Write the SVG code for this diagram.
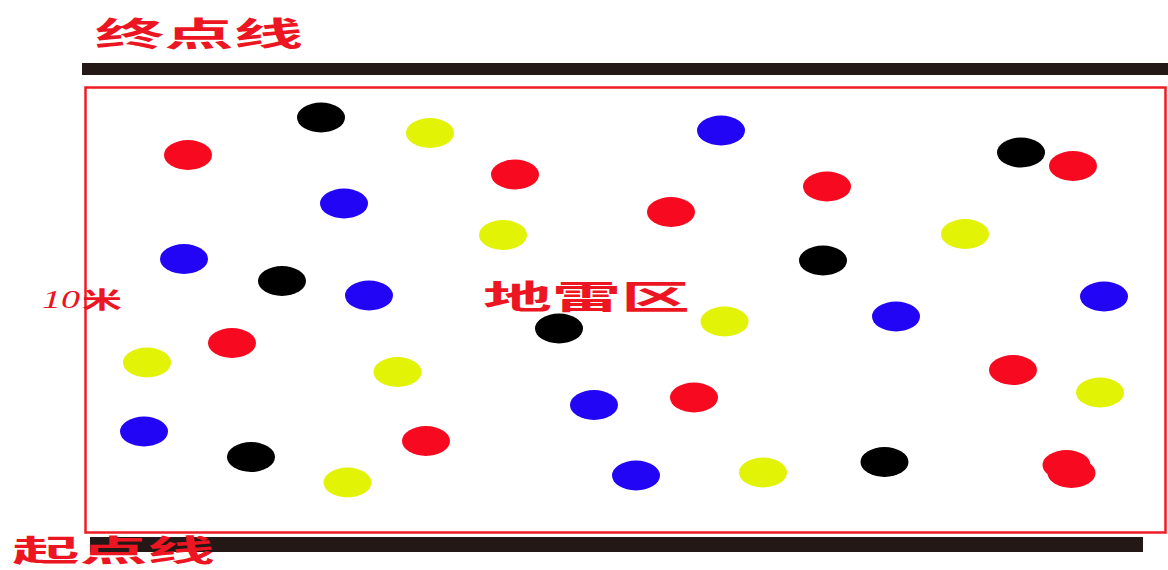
<svg xmlns="http://www.w3.org/2000/svg" width="1168" height="570" viewBox="0 0 1168 570">
<style>
.t{font-family:"Noto Sans CJK SC","Noto Sans CJK JP",sans-serif;font-weight:700;fill:#ec1522}
.r{fill:#f7091f}.y{fill:#e2f305}.b{fill:#2305f5}.k{fill:#000}
</style>
<rect width="1168" height="570" fill="#fff"/>
<g id="finish-line">
<rect x="82" y="63" width="1086" height="12" fill="#231815"/>
<text class="t" x="95" y="46" font-size="33" textLength="208" lengthAdjust="spacingAndGlyphs">终点线</text>
</g>
<g id="start-line">
<rect x="90" y="537" width="1053" height="15" fill="#231815"/>
<text class="t" x="12" y="561" font-size="30" textLength="203" lengthAdjust="spacingAndGlyphs">起点线</text>
</g>
<g id="minefield">
<rect x="85.5" y="87.5" width="1080" height="445" fill="none" stroke="#ee1c25" stroke-width="2.5"/>
<text class="t" x="483" y="309" font-size="33" textLength="207" lengthAdjust="spacingAndGlyphs">地雷区</text>
</g>
<g id="width-label">
<text x="42" y="308" font-family="Liberation Serif, serif" font-style="italic" font-size="26" fill="#e8141f" textLength="38" lengthAdjust="spacingAndGlyphs">10</text>
<text class="t" x="82" y="308" font-size="23" textLength="40" lengthAdjust="spacingAndGlyphs">米</text>
</g>
<g id="mines">
<ellipse class="k" cx="321" cy="117.5" rx="24" ry="15"/>
<ellipse class="y" cx="430" cy="133" rx="24" ry="15"/>
<ellipse class="b" cx="721" cy="130.5" rx="24" ry="15"/>
<ellipse class="r" cx="188" cy="155" rx="24" ry="15"/>
<ellipse class="k" cx="1021" cy="152.5" rx="24" ry="15"/>
<ellipse class="r" cx="1073" cy="166" rx="24" ry="15"/>
<ellipse class="r" cx="515" cy="174.5" rx="24" ry="15"/>
<ellipse class="r" cx="827" cy="186.5" rx="24" ry="15"/>
<ellipse class="b" cx="344" cy="203.5" rx="24" ry="15"/>
<ellipse class="r" cx="671" cy="212" rx="24" ry="15"/>
<ellipse class="y" cx="503" cy="235" rx="24" ry="15"/>
<ellipse class="y" cx="965" cy="234" rx="24" ry="15"/>
<ellipse class="b" cx="184" cy="259" rx="24" ry="15"/>
<ellipse class="k" cx="823" cy="260.5" rx="24" ry="15"/>
<ellipse class="k" cx="282" cy="281" rx="24" ry="15"/>
<ellipse class="b" cx="369" cy="295.5" rx="24" ry="15"/>
<ellipse class="b" cx="1104" cy="296.5" rx="24" ry="15"/>
<ellipse class="b" cx="896" cy="316.5" rx="24" ry="15"/>
<ellipse class="y" cx="724.5" cy="321.5" rx="24" ry="15"/>
<ellipse class="k" cx="559" cy="328.5" rx="24" ry="15"/>
<ellipse class="r" cx="232" cy="343" rx="24" ry="15"/>
<ellipse class="y" cx="147" cy="362.5" rx="24" ry="15"/>
<ellipse class="y" cx="397.5" cy="372" rx="24" ry="15"/>
<ellipse class="r" cx="1013" cy="370" rx="24" ry="15"/>
<ellipse class="y" cx="1100" cy="392.5" rx="24" ry="15"/>
<ellipse class="r" cx="694" cy="397.5" rx="24" ry="15"/>
<ellipse class="b" cx="594" cy="405" rx="24" ry="15"/>
<ellipse class="b" cx="144" cy="431.5" rx="24" ry="15"/>
<ellipse class="r" cx="426" cy="441" rx="24" ry="15"/>
<ellipse class="k" cx="251" cy="457" rx="24" ry="15"/>
<ellipse class="k" cx="884.5" cy="462" rx="24" ry="15"/>
<ellipse class="r" cx="1066.5" cy="465" rx="24" ry="15"/>
<ellipse class="r" cx="1071.5" cy="473" rx="24" ry="15"/>
<ellipse class="y" cx="763" cy="472.5" rx="24" ry="15"/>
<ellipse class="b" cx="636" cy="475.5" rx="24" ry="15"/>
<ellipse class="y" cx="347.5" cy="482.5" rx="24" ry="15"/>
</g>
</svg>
